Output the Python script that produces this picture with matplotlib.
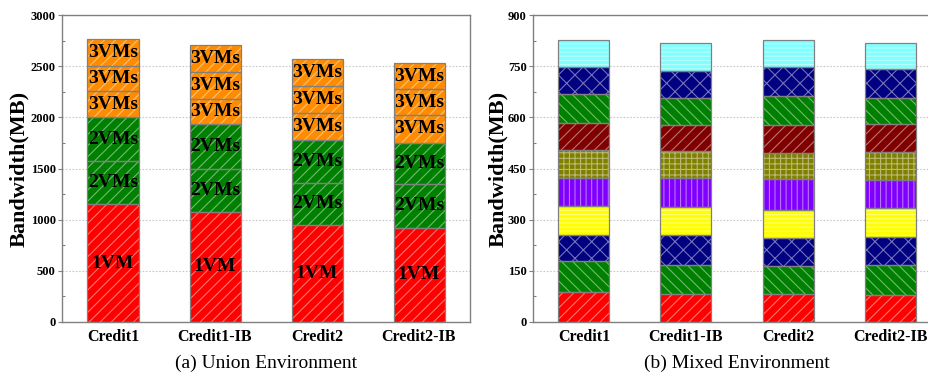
import numpy as np
import matplotlib
matplotlib.use('Agg')
import matplotlib.pyplot as plt
from matplotlib.ticker import MultipleLocator
from matplotlib.colors import to_rgb

plt.rcParams['font.family'] = ['Liberation Serif', 'DejaVu Serif']
plt.rcParams['hatch.linewidth'] = 0.8

categories = ['Credit1', 'Credit1-IB', 'Credit2', 'Credit2-IB']

# union environment, bottom to top
union_1vm = [1151, 1079, 946, 923]
union_2vm_a = [421, 418, 417, 430]
union_2vm_b = [427, 437, 417, 401]
union_3vm_a = [254, 247, 264, 264]
union_3vm_b = [251, 265, 264, 255]
union_3vm_c = [258, 257, 258, 254]

# mixed environment, ten VMs stacked bottom to top
mixed_vm1 = [88, 83, 83, 79]
mixed_vm2 = [90, 83, 81, 87]
mixed_vm3 = [78, 88, 83, 82]
mixed_vm4 = [83, 83, 80, 85]
mixed_vm5 = [84, 84, 91, 83]
mixed_vm6 = [80, 80, 78, 82]
mixed_vm7 = [79, 77, 81, 82]
mixed_vm8 = [87, 80, 87, 78]
mixed_vm9 = [79, 79, 84, 83]
mixed_vm10 = [78, 82, 78, 78]

union_layers = [union_1vm, union_2vm_a, union_2vm_b, union_3vm_a, union_3vm_b, union_3vm_c]
union_labels = ['1VM', '2VMs', '2VMs', '3VMs', '3VMs', '3VMs']
union_colors = ['#ff0000', '#008000', '#008000', '#ff8c00', '#ff8c00', '#ff8c00']
union_hatch = ['///'] * 6

mixed_layers = [mixed_vm1, mixed_vm2, mixed_vm3, mixed_vm4, mixed_vm5,
                mixed_vm6, mixed_vm7, mixed_vm8, mixed_vm9, mixed_vm10]
mixed_colors = ['#ff0000', '#008000', '#000080', '#ffff00', '#8000ff',
                '#808000', '#800000', '#008000', '#000080', '#80ffff']
mixed_hatch = ['///', '\\\\\\', 'xx', '----', '|||',
               '+++', '///', '\\\\\\', 'xx', '----']


def lighter(c, f=0.5):
    r, g, b = to_rgb(c)
    return (r + (1 - r) * f, g + (1 - g) * f, b + (1 - b) * f)


def stack(ax, layers, colors, hatches, labels=None):
    x = np.arange(len(categories))
    bottom = np.zeros(len(categories))
    for i, vals in enumerate(layers):
        vals = np.array(vals, dtype=float)
        ax.bar(x, vals, 0.5, bottom=bottom, color=colors[i], linewidth=0, zorder=2)
        ax.bar(x, vals, 0.5, bottom=bottom, facecolor='none',
               edgecolor=lighter(colors[i], 0.45), hatch=hatches[i], linewidth=0, zorder=3)
        ax.bar(x, vals, 0.5, bottom=bottom, facecolor='none',
               edgecolor='#808080', linewidth=0.9, zorder=4)
        if labels is not None:
            for j in range(len(x)):
                ax.text(x[j], bottom[j] + vals[j] / 2, labels[i], ha='center', va='center',
                        fontsize=14, fontweight='bold', color='black', zorder=5)
        bottom += vals


def style(ax, ymax, major, minor, label_x):
    ax.set_xlim(-0.5, 3.5)
    ax.set_ylim(0, ymax)
    ax.set_xticks(np.arange(len(categories)))
    ax.set_xticklabels(categories, fontsize=11.5, fontweight='bold')
    ax.yaxis.set_major_locator(MultipleLocator(major))
    ax.yaxis.set_minor_locator(MultipleLocator(minor))
    for t in ax.get_yticklabels():
        t.set_fontweight('bold')
        t.set_fontsize(9)
    ax.tick_params(axis='x', length=0, pad=5)
    ax.tick_params(axis='y', which='major', direction='out', length=3, width=0.8,
                   color='#808080', pad=1.5)
    ax.tick_params(axis='y', which='minor', direction='in', length=2, width=0.8,
                   color='#808080')
    for s in ax.spines.values():
        s.set_color('#808080')
        s.set_linewidth(1)
    ax.yaxis.grid(True, linestyle=(0, (1.5, 1.5)), color='#c8c8c8', linewidth=0.8, zorder=0)
    ax.set_axisbelow(True)
    ax.set_ylabel('Bandwidth(MB)', fontsize=16, fontweight='bold')
    ax.yaxis.set_label_coords(label_x, 0.5)


fig = plt.figure(figsize=(9.29, 3.72), dpi=100)
ax1 = fig.add_axes([62 / 929, 50 / 372, 408 / 929, 307 / 372])
ax2 = fig.add_axes([533 / 929, 50 / 372, 408 / 929, 307 / 372])

stack(ax1, union_layers, union_colors, union_hatch, union_labels)
style(ax1, 3000, 500, 250, -0.08)

stack(ax2, mixed_layers, mixed_colors, mixed_hatch)
style(ax2, 900, 150, 75, -0.06)

fig.text(266 / 929, 9 / 372, '(a) Union Environment', fontsize=14, ha='center', va='center')
fig.text(737 / 929, 9 / 372, '(b) Mixed Environment', fontsize=14, ha='center', va='center')

fig.savefig('out.png', dpi=100)
